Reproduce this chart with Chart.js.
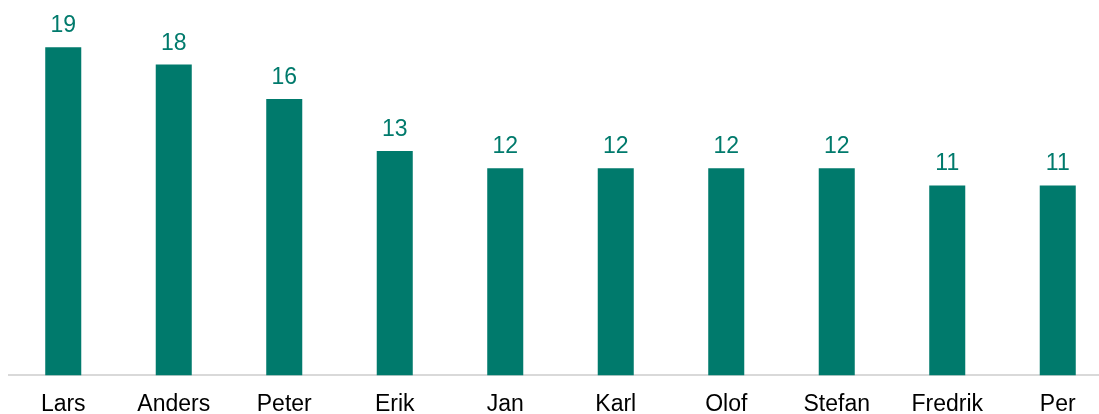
<!DOCTYPE html>
<html>
<head>
<meta charset="utf-8">
<script src="https://cdn.jsdelivr.net/npm/chart.js@4/dist/chart.umd.min.js"></script>
<style>
  html, body { margin: 0; padding: 0; background: #fff; overflow: hidden; }
  #wrap { position: absolute; left: 8px; top: 0; }
</style>
</head>
<body>
<div id="wrap"><canvas id="chart" width="1105" height="425"></canvas></div>
<script>
const names = ['Lars', 'Anders', 'Peter', 'Erik', 'Jan', 'Karl', 'Olof', 'Stefan', 'Fredrik', 'Per'];
const counts = [19, 18, 16, 13, 12, 12, 12, 12, 11, 11];

const teal = '#007A6C';
const fontFamily = "'Liberation Sans', Arial, sans-serif";

// value above every bar
const valueLabels = {
  id: 'valueLabels',
  afterDatasetsDraw(chart) {
    const ctx = chart.ctx;
    const meta = chart.getDatasetMeta(0);
    ctx.save();
    ctx.font = '23px ' + fontFamily;
    ctx.fillStyle = teal;
    ctx.textAlign = 'center';
    ctx.textBaseline = 'alphabetic';
    meta.data.forEach((bar, i) => {
      ctx.fillText(String(counts[i]), bar.x, bar.y - 15);
    });
    ctx.restore();
  }
};

new Chart(document.getElementById('chart').getContext('2d'), {
  type: 'bar',
  data: {
    labels: names,
    datasets: [{
      data: counts,
      backgroundColor: teal,
      borderWidth: 0,
      categoryPercentage: 1,
      barPercentage: 0.326
    }]
  },
  options: {
    responsive: false,
    animation: false,
    layout: { padding: { top: 30, left: 0, right: 0, bottom: 0 } },
    scales: {
      x: {
        grid: { display: false },
        border: { display: true, color: '#D9D9D9', width: 2 },
        ticks: {
          color: '#000',
          font: { family: fontFamily, size: 23 },
          padding: 7,
          maxRotation: 0,
          autoSkip: false
        }
      },
      y: {
        display: false,
        min: 0,
        max: 20
      }
    },
    plugins: {
      legend: { display: false },
      tooltip: { enabled: false }
    }
  },
  plugins: [valueLabels]
});
</script>
</body>
</html>
